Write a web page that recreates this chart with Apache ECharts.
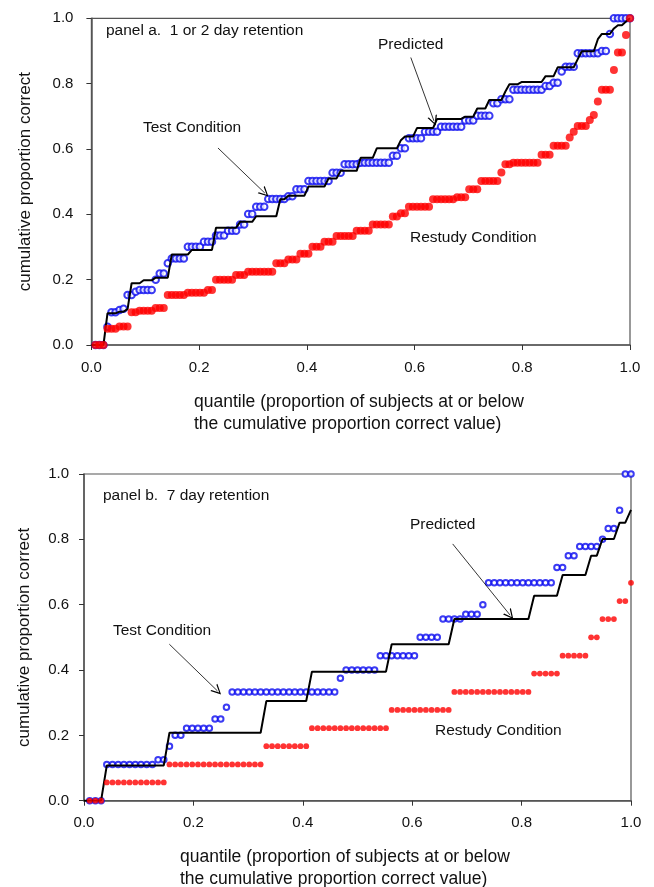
<!DOCTYPE html>
<html>
<head>
<meta charset="utf-8">
<script src="https://cdn.jsdelivr.net/npm/echarts@6/dist/echarts.min.js"></script>
<style>
  html, body { margin: 0; padding: 0; background: #fff; }
  #chart { width: 654px; height: 887px; }
</style>
</head>
<body>
<div id="chart"></div>
<script>
// each run is [cumulative proportion correct, number of subjects at that value], in rank order
const restudyA = [[0,3],[0.05,3],[0.057,3],[0.1,2],[0.105,4],[0.113,3],[0.153,5],[0.16,5],[0.168,2],[0.2,5],[0.214,3],[0.224,7],[0.25,3],[0.262,3],[0.279,3],[0.301,3],[0.316,3],[0.334,5],[0.35,4],[0.369,5],[0.393,2],[0.403,2],[0.423,6],[0.446,6],[0.452,3],[0.477,3],[0.502,5],[0.528,1],[0.553,2],[0.558,7],[0.582,3],[0.61,4],[0.635,1],[0.653,1],[0.67,3],[0.689,1],[0.704,1],[0.745,1],[0.781,3],[0.842,1],[0.895,2],[0.949,1],[1.0,1]];
const testA = [[0,3],[0.056,1],[0.1,2],[0.107,1],[0.111,1],[0.153,2],[0.163,1],[0.168,4],[0.2,1],[0.219,2],[0.25,1],[0.265,4],[0.301,4],[0.316,3],[0.335,3],[0.35,3],[0.369,2],[0.401,2],[0.423,3],[0.447,5],[0.455,2],[0.477,3],[0.502,6],[0.527,3],[0.553,4],[0.558,8],[0.579,2],[0.602,2],[0.633,4],[0.653,4],[0.668,6],[0.687,3],[0.702,4],[0.74,2],[0.752,3],[0.781,8],[0.793,2],[0.803,2],[0.837,1],[0.852,3],[0.893,6],[0.9,2],[0.952,1],[1.0,5]];
const predictedA = [[0,3],[0.097,3],[0.102,2],[0.11,1],[0.189,3],[0.198,3],[0.206,4],[0.277,5],[0.291,6],[0.359,6],[0.377,4],[0.394,6],[0.446,2],[0.457,5],[0.485,5],[0.51,3],[0.533,5],[0.573,4],[0.602,6],[0.627,1],[0.638,3],[0.664,5],[0.692,7],[0.699,3],[0.724,3],[0.75,4],[0.776,1],[0.798,3],[0.805,6],[0.823,3],[0.85,5],[0.875,1],[0.899,4],[0.936,1],[0.952,3],[0.969,1],[0.979,2],[0.99,1],[1.0,1]];

const restudyB = [[0,3],[0.056,11],[0.111,17],[0.167,8],[0.222,14],[0.278,11],[0.333,14],[0.389,5],[0.444,5],[0.5,2],[0.556,3],[0.611,2],[0.667,1]];
const testB = [[0,3],[0.111,9],[0.125,2],[0.167,1],[0.2,2],[0.222,5],[0.25,2],[0.286,1],[0.333,19],[0.375,1],[0.4,6],[0.444,7],[0.5,4],[0.556,4],[0.571,3],[0.6,1],[0.667,12],[0.714,2],[0.75,2],[0.778,4],[0.8,1],[0.833,2],[0.889,1],[1.0,2]];
const predictedB = [[0,3],[0.108,11],[0.208,17],[0.305,8],[0.395,14],[0.479,11],[0.556,14],[0.627,5],[0.691,5],[0.75,2],[0.801,3],[0.851,2],[0.89,1]];

const axisTicks = [0, 0.2, 0.4, 0.6, 0.8, 1.0];

// annotation arrows, in data units: [from, to]
const arrowsA = [[[0.235, 0.603], [0.322, 0.465]], [[0.593, 0.88], [0.636, 0.686]]];
const arrowsB = [[[0.156, 0.479], [0.244, 0.336]], [[0.674, 0.786], [0.779, 0.568]]];

// rank i of n -> quantile i/n
function toQuantiles(runs) {
  const n = runs.reduce((s, r) => s + r[1], 0);
  const pts = [];
  let i = 0;
  runs.forEach(([v, c]) => {
    for (let k = 0; k < c; k++) {
      i++;
      pts.push([i / n, v]);
    }
  });
  return pts;
}

const FONT = '"Liberation Sans", Arial, sans-serif';
const axisColor = '#555';
const arrowHead = 'path://M5,0 L10,10 L8.6,10 L5,2.6 L1.4,10 L0,10 Z';

const makeAxis = (idx, isY) => ({
  gridIndex: idx,
  type: 'value',
  min: 0,
  max: 1,
  interval: 0.2,
  name: isY ? 'cumulative proportion correct' : '',
  nameLocation: 'middle',
  nameGap: isY ? (idx === 0 ? 58 : 51) : 0,
  nameTextStyle: { fontFamily: FONT, fontSize: 17, color: '#111' },
  axisLine: { show: true, lineStyle: { color: axisColor, width: 1.5 } },
  axisTick: { show: true, length: 5, lineStyle: { color: '#333', width: 1 } },
  axisLabel: {
    fontFamily: FONT, fontSize: 15, color: '#111',
    margin: isY ? (idx === 0 ? 18 : 15) : 15,
    formatter: v => axisTicks.includes(Math.round(v * 10) / 10) ? v.toFixed(1) : ''
  },
  splitLine: { show: false }
});

const arrowLine = arrows => ({
  silent: true,
  symbol: ['none', arrowHead],
  symbolSize: 10,
  label: { show: false },
  lineStyle: { color: '#000', width: 0.8, type: 'solid' },
  emphasis: { disabled: true },
  data: arrows.map(([a, b]) => [{ coord: a }, { coord: b }])
});

const panelSeries = (idx, test, predicted, restudy, big, arrows) => [
  {
    type: 'scatter', xAxisIndex: idx, yAxisIndex: idx, z: 2,
    symbol: 'emptyCircle', symbolSize: big ? 6.5 : 5.5,
    itemStyle: { color: '#0a0af0', borderColor: '#0a0af0', borderWidth: big ? 2 : 1.2 },
    data: toQuantiles(test)
  },
  {
    type: 'line', xAxisIndex: idx, yAxisIndex: idx, z: 3,
    showSymbol: false, symbol: 'none',
    lineStyle: { color: '#000', width: 2 },
    data: [[0, 0]].concat(toQuantiles(predicted)),
    markLine: arrowLine(arrows)
  },
  {
    type: 'scatter', xAxisIndex: idx, yAxisIndex: idx, z: 4,
    symbol: 'circle', symbolSize: big ? 8 : 5.8,
    itemStyle: { color: '#ff0000' },
    data: toQuantiles(restudy)
  }
];

const label = (x, y, text) => ({
  type: 'text', x, y, z: 10,
  style: { text, font: '15.5px ' + FONT, fill: '#111', verticalAlign: 'middle' }
});

const xTitle = (x, y) => ({
  type: 'text', x, y, z: 10,
  style: {
    text: 'quantile (proportion of subjects at or below\nthe cumulative proportion correct value)',
    font: '17.5px ' + FONT, fill: '#111', lineHeight: 22, verticalAlign: 'top'
  }
});

const chart = echarts.init(document.getElementById('chart'));
chart.setOption({
  animation: false,
  backgroundColor: '#fff',
  grid: [
    { left: 91.4, top: 18.3, width: 538.6, height: 326.7, show: true, borderColor: axisColor, borderWidth: 1.2 },
    { left: 84, top: 474, width: 547, height: 326.7, show: true, borderColor: axisColor, borderWidth: 1.2 }
  ],
  xAxis: [makeAxis(0, false), makeAxis(1, false)],
  yAxis: [makeAxis(0, true), makeAxis(1, true)],
  series: [
    ...panelSeries(0, testA, predictedA, restudyA, true, arrowsA),
    ...panelSeries(1, testB, predictedB, restudyB, false, arrowsB)
  ],
  graphic: [
    label(106, 31, 'panel a.  1 or 2 day retention'),
    label(143, 128, 'Test Condition'),
    label(378, 45, 'Predicted'),
    label(410, 238, 'Restudy Condition'),
    xTitle(194, 391),
    label(103, 496, 'panel b.  7 day retention'),
    label(113, 631, 'Test Condition'),
    label(410, 525, 'Predicted'),
    label(435, 731, 'Restudy Condition'),
    xTitle(180, 846)
  ]
});
</script>
</body>
</html>
